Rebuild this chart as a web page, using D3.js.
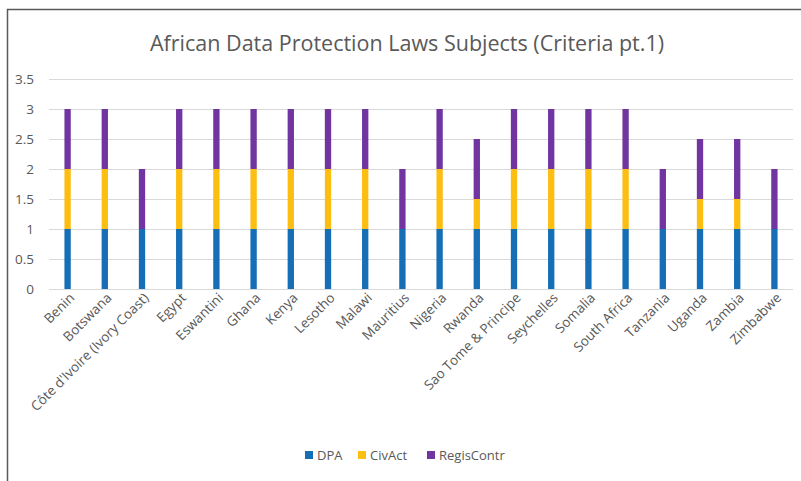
<!DOCTYPE html>
<html>
<head>
<meta charset="utf-8">
<script src="https://cdn.jsdelivr.net/npm/d3@7"></script>
<style>
  html, body { margin: 0; padding: 0; background: #fff; }
  svg { display: block; font-family: "Open Sans", "Noto Sans", sans-serif; }
</style>
</head>
<body>
<div id="chart"></div>
<script>
const countries = ['Benin', 'Botswana', "Côte d'Ivoire (Ivory Coast)", 'Egypt', 'Eswantini', 'Ghana', 'Kenya',
  'Lesotho', 'Malawi', 'Mauritius', 'Nigeria', 'Rwanda', 'Sao Tome & Principe', 'Seychelles', 'Somalia',
  'South Africa', 'Tanzania', 'Uganda', 'Zambia', 'Zimbabwe'];
const seriesNames = ['DPA', 'CivAct', 'RegisContr'];
const dpa        = [1, 1, 1, 1, 1, 1, 1, 1, 1, 1, 1, 1, 1, 1, 1, 1, 1, 1, 1, 1];
const civAct     = [1, 1, 0, 1, 1, 1, 1, 1, 1, 0, 1, 0.5, 1, 1, 1, 1, 0, 0.5, 0.5, 0];
const regisContr = [1, 1, 1, 1, 1, 1, 1, 1, 1, 1, 1, 1, 1, 1, 1, 1, 1, 1, 1, 1];
const yTicks = [0, 0.5, 1, 1.5, 2, 2.5, 3, 3.5];
const colors = ['#156EB6', '#FDBE12', '#7035A0'];

const W = 801, H = 481;
const margin = { top: 79, right: 8, bottom: 192, left: 49 };

const svg = d3.select('#chart').append('svg')
  .attr('width', W).attr('height', H);

// frame
svg.append('path')
  .attr('d', `M7.5,${H} V9.5 H${W}`)
  .attr('fill', 'none')
  .attr('stroke', '#595959')
  .attr('stroke-width', 1.5);

const table = countries.map((c, i) => ({ country: c, DPA: dpa[i], CivAct: civAct[i], RegisContr: regisContr[i] }));
const stacked = d3.stack().keys(seriesNames)(table);

const x = d3.scaleBand()
  .domain(countries)
  .range([margin.left, W - margin.right])
  .paddingInner(0.83)
  .paddingOuter(0.415);

const y = d3.scaleLinear()
  .domain([0, 3.5])
  .range([H - margin.bottom, margin.top]);

// gridlines
svg.append('g')
  .selectAll('line')
  .data(yTicks)
  .join('line')
  .attr('x1', margin.left).attr('x2', W - margin.right)
  .attr('y1', d => Math.round(y(d)) + 0.5).attr('y2', d => Math.round(y(d)) + 0.5)
  .attr('stroke', '#d9d9d9').attr('stroke-width', 1);

// y labels
svg.append('g')
  .selectAll('text')
  .data(yTicks)
  .join('text')
  .attr('x', 34)
  .attr('y', d => y(d))
  .attr('dy', '0.35em')
  .attr('text-anchor', 'end')
  .attr('fill', '#595959')
  .attr('font-size', 13.5)
  .text(d => d);

// bars
svg.append('g')
  .selectAll('g')
  .data(stacked)
  .join('g')
  .attr('fill', (d, i) => colors[i])
  .selectAll('rect')
  .data(d => d)
  .join('rect')
  .attr('x', d => x(d.data.country))
  .attr('width', x.bandwidth())
  .attr('y', d => y(d[1]))
  .attr('height', d => y(d[0]) - y(d[1]));

// x labels
svg.append('g')
  .selectAll('text')
  .data(countries)
  .join('text')
  .attr('transform', d => `translate(${x(d) + x.bandwidth() / 2 + 1},${H - margin.bottom + 3}) rotate(-45)`)
  .attr('text-anchor', 'end')
  .attr('dy', '0.7em')
  .attr('fill', '#595959')
  .attr('font-size', 13.5)
  .text(d => d);

// title
svg.append('text')
  .attr('x', 407)
  .attr('y', 51)
  .attr('text-anchor', 'middle')
  .attr('fill', '#595959')
  .attr('font-size', 21.5)
  .text('African Data Protection Laws Subjects (Criteria pt.1)');

// legend
const legendX = [305, 358, 427];
const lg = svg.append('g')
  .selectAll('g')
  .data(seriesNames)
  .join('g')
  .attr('transform', (d, i) => `translate(${legendX[i]},455)`);
lg.append('rect')
  .attr('x', 0).attr('y', -4)
  .attr('width', 8).attr('height', 8)
  .attr('fill', (d, i) => colors[i]);
lg.append('text')
  .attr('x', 12)
  .attr('dy', '0.35em')
  .attr('fill', '#595959')
  .attr('font-size', 13)
  .text(d => d);
</script>
</body>
</html>
